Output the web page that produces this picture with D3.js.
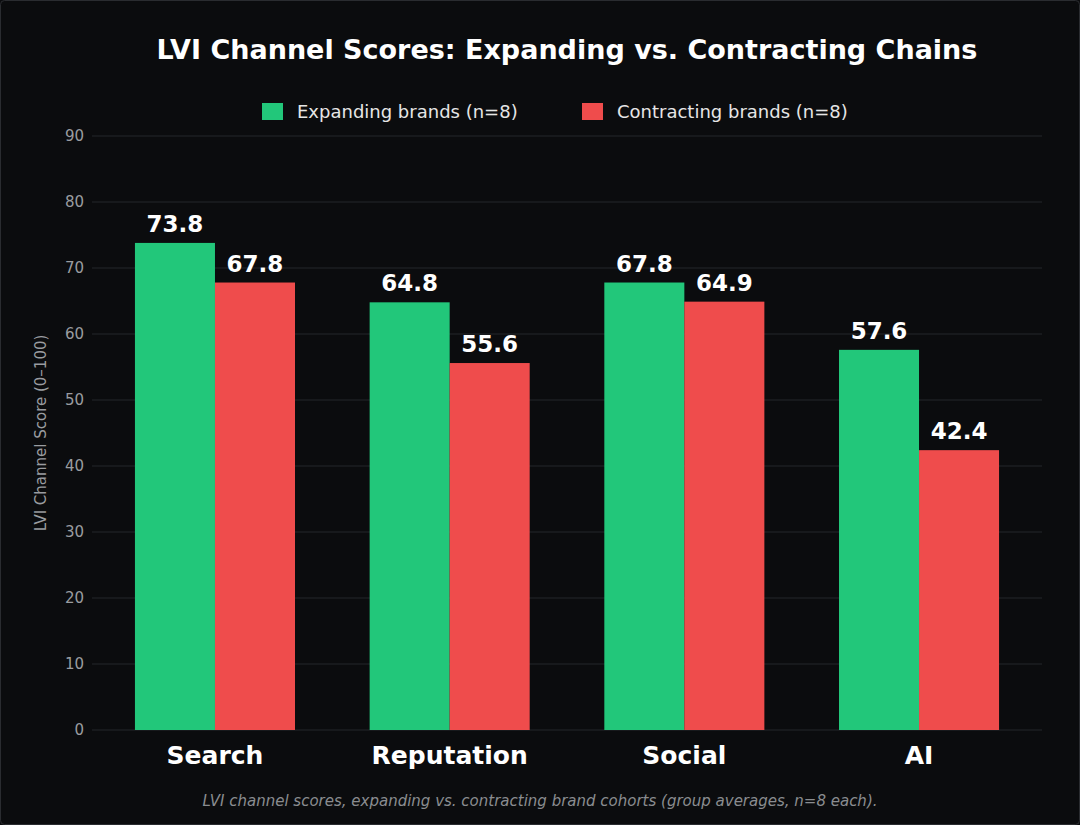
<!DOCTYPE html><html><head><meta charset="utf-8"><script src="https://cdn.jsdelivr.net/npm/d3@7"></script>
<style>body{margin:0;background:#0b0c0e}svg{display:block;font-family:"DejaVu Sans",sans-serif}</style></head><body>
<svg id="c" width="1080" height="825"></svg>
<script>
const categories=["Search","Reputation","Social","AI"];
const expanding=[73.8,64.8,67.8,57.6];
const contracting=[67.8,55.6,64.9,42.4];
const yTicks=[0,10,20,30,40,50,60,70,80,90];
const seriesNames=["Expanding brands (n=8)","Contracting brands (n=8)"];
const colors=["#22c77a","#ef4c4c"];
const svg=d3.select("#c");
svg.append("rect").attr("x",0.5).attr("y",0.5).attr("width",1079).attr("height",824).attr("rx",4).attr("fill","#0b0c0e").attr("stroke","#2a2c30");
const L=92,R=1042,T=136,B=730;
const x=d3.scalePoint().domain(categories).range([L,R]).padding(0.524);
const y=d3.scaleLinear().domain([0,90]).range([B,T]);
const bw=x.step()*0.341;
svg.append("g").selectAll("line").data(yTicks).join("line").attr("x1",L).attr("x2",R).attr("y1",d=>y(d)).attr("y2",d=>y(d)).attr("stroke","#25272b").attr("stroke-width",1);
const ya=svg.append("g").attr("transform",`translate(${L},0)`).call(d3.axisLeft(y).tickValues(yTicks).tickSize(0).tickPadding(8));
ya.select(".domain").remove();ya.selectAll("text").attr("fill","#9a9ca0").attr("font-size",15).attr("font-family","DejaVu Sans");
[expanding,contracting].forEach((s,i)=>{
 const g=svg.append("g");
 g.selectAll("rect").data(s).join("rect").attr("x",(d,j)=>x(categories[j])-bw+i*bw).attr("width",bw).attr("y",d=>y(d)).attr("height",d=>B-y(d)).attr("fill",colors[i]);
 g.selectAll("text").data(s).join("text").attr("x",(d,j)=>x(categories[j])-bw/2+i*bw).attr("y",d=>y(d)-11).attr("text-anchor","middle").attr("fill","#fff").attr("font-weight","bold").attr("font-size",23).text(d=>d.toFixed(1));
});
svg.append("g").selectAll("text").data(categories).join("text").attr("x",d=>x(d)).attr("y",764).attr("text-anchor","middle").attr("fill","#fff").attr("font-weight","bold").attr("font-size",25).text(d=>d);
svg.append("text").attr("transform","translate(46,433) rotate(-90)").attr("text-anchor","middle").attr("fill","#9a9ca0").attr("font-size",15).text("LVI Channel Score (0–100)");
svg.append("text").attr("x",567).attr("y",59).attr("text-anchor","middle").attr("fill","#fff").attr("font-weight","bold").attr("font-size",27).text("LVI Channel Scores: Expanding vs. Contracting Chains");
const lg=svg.append("g");
const lx=[262,582];
seriesNames.forEach((n,i)=>{
 lg.append("rect").attr("x",lx[i]).attr("y",103).attr("width",21).attr("height",17).attr("fill",colors[i]);
 lg.append("text").attr("x",lx[i]+35).attr("y",118).attr("fill","#e6e6e6").attr("font-size",18).text(n);
});
svg.append("text").attr("x",540).attr("y",806).attr("text-anchor","middle").attr("fill","#8a8c90").attr("font-style","italic").attr("font-size",15).text("LVI channel scores, expanding vs. contracting brand cohorts (group averages, n=8 each).");
</script></body></html>
